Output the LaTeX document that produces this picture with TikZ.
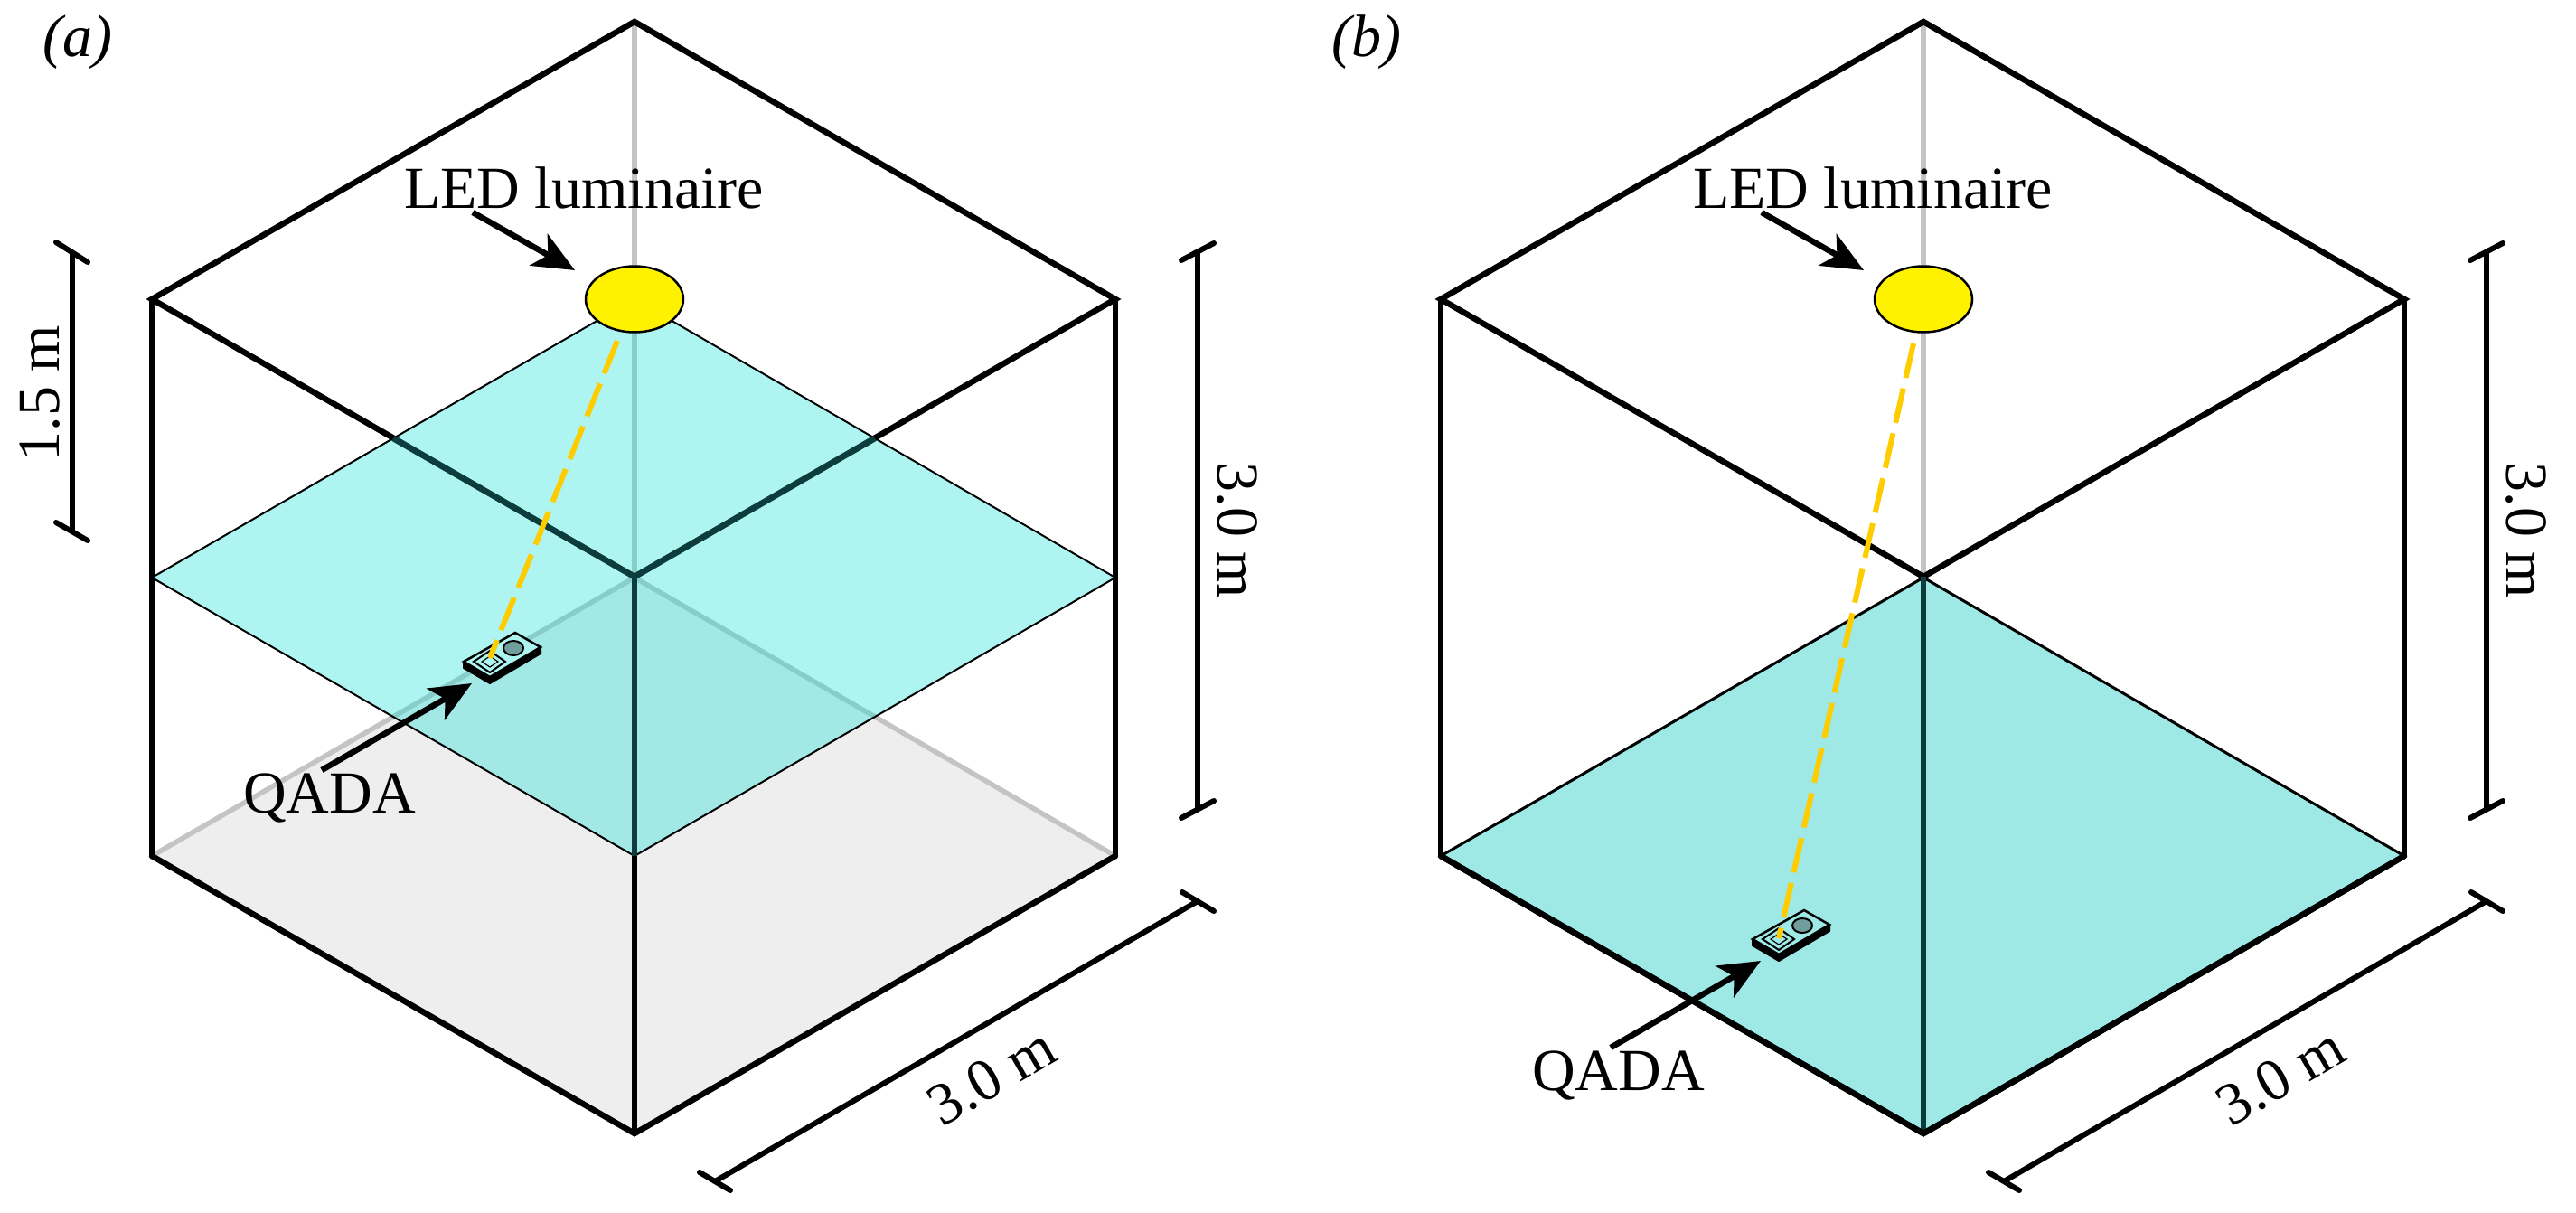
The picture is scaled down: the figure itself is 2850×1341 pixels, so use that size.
\documentclass[tikz,border=0pt]{standalone}
\usepackage{fontspec}
\setmainfont{Liberation Serif}
\usetikzlibrary{arrows.meta,shapes.geometric}
\definecolor{planeink}{RGB}{23,226,217}
\definecolor{planeface}{HTML}{AEF5F2}
\definecolor{floorink}{RGB}{13,200,190}
\definecolor{floorface}{HTML}{9EE9E5}
\definecolor{floorgrey}{HTML}{EEEEEE}
\definecolor{backgrey}{HTML}{C4C4C4}
\definecolor{throughteal}{HTML}{0C3C3B}
\definecolor{ledyellow}{HTML}{FFF200}
\definecolor{beam}{HTML}{FFCC00}
\definecolor{lens}{HTML}{6F9E9C}
\tikzset{
  x=1pt,y=-1pt,
  every node/.style={inner sep=0pt,outer sep=0pt,font=\fontsize{66}{72}\selectfont},
  topedge/.style={draw=black,line width=6.5pt,line join=miter,line cap=round},
  sideedge/.style={draw=black,line width=5.5pt,line cap=round},
  backedge/.style={draw=backgrey,line width=5.5pt},
  thinedge/.style={draw=black,line width=2pt,line join=miter},
  led/.style={ellipse,draw=black,line width=2.5pt,fill=ledyellow,minimum width=108pt,minimum height=73pt},
  callout/.style={draw=black,line width=6.5pt,-{Stealth[length=46pt,width=40pt,inset=12pt]}},
  dimline/.style={draw=black,line width=6pt},
  dimtick/.style={draw=black,line width=6pt,line cap=round},
  beamline/.style={draw=beam,line width=6pt,dash pattern=on 39pt off 12pt},
}
% shared corner points of a cube
\newcommand{\cubepoints}{
  \coordinate (T) at (702,24);
  \coordinate (L) at (168,331);
  \coordinate (R) at (1234,331);
  \coordinate (F) at (702,638);
  \coordinate (bB) at (702,639);
  \coordinate (bL) at (168,947);
  \coordinate (bR) at (1234,947);
  \coordinate (bF) at (702,1254);
}
\newcommand{\cubeframe}{
  \draw[sideedge] (L) -- (bL);
  \draw[sideedge] (R) -- (bR);
  \draw[sideedge] (F) -- (bF);
  \draw[topedge] (L) -- (T) -- (R) -- (F) -- cycle;
  \draw[topedge] (bL) -- (bF) -- (bR);
}
% #1 vertical shift, #2 face colour
\newcommand{\qadamodule}[2]{
  \begin{scope}[yshift=-#1pt]
    \fill[black,draw=black,line width=2pt,line join=round] (513,733) -- (513,739) -- (542,756) -- (598,723) -- (598,716) -- cycle;
    \draw[thinedge,line width=2.5pt,fill=#2] (570,700) -- (598,716) -- (542,749) -- (513,732) -- cycle;
    \draw[thinedge] (542,720) -- (559,732) -- (542,744) -- (524,732) -- cycle;
    \draw[thinedge,line width=1.2pt] (542,726) -- (551,732) -- (542,738) -- (533,732) -- cycle;
    \node[ellipse,draw=black,line width=2pt,fill=lens,minimum width=22pt,minimum height=16pt] (qlens) at (568,717) {};
  \end{scope}
}
\newcommand{\commonlabels}{
  \node[led] (led) at (702,331) {};
  \node[anchor=base] (ledlabel) at (646,230) {LED luminaire};
  \coordinate (ledtail) at (523,235);
  \coordinate (ledtip) at (636,299);
  \draw[callout] (ledtail) -- (ledtip);
  \node[anchor=base,rotate=-90] (hdim) at (1347,587) {3.0 m};
  \coordinate (h1) at (1325,279);
  \coordinate (h2) at (1325,896);
  \coordinate (h1a) at (1307,288);
  \coordinate (h1b) at (1343,269);
  \coordinate (h2a) at (1307,905);
  \coordinate (h2b) at (1343,886);
  \draw[dimline] (h1) -- (h2);
  \draw[dimtick] (h1a) -- (h1b);
  \draw[dimtick] (h2a) -- (h2b);
  \coordinate (w1) at (1325,997);
  \coordinate (w2) at (791,1307);
  \coordinate (w1a) at (1308,987);
  \coordinate (w1b) at (1343,1008);
  \coordinate (w2a) at (774,1297);
  \coordinate (w2b) at (808,1317);
  \draw[dimline] (w1) -- (w2);
  \draw[dimtick] (w1a) -- (w1b);
  \draw[dimtick] (w2a) -- (w2b);
  \node[rotate=30] (wdim) at (1097,1191) {3.0 m};
}
\begin{document}
\begin{tikzpicture}
\useasboundingbox (0,0) rectangle (2850,1341);
% ---------- panel (a)
\begin{scope}[name prefix=a-]
  \cubepoints
  \coordinate (pB) at (702,331);
  \coordinate (pL) at (168,639);
  \coordinate (pR) at (1234,639);
  \coordinate (pF) at (702,947);
  \coordinate (xL) at (435,485);
  \coordinate (xR) at (968,485);
  \fill[floorgrey] (bB) -- (bL) -- (bF) -- (bR) -- cycle;
  \draw[backedge] (bL) -- (bB) -- (bR);
  \draw[backedge] (T) -- (bB);
  \cubeframe
  \fill[planeink,opacity=.35] (pB) -- (pL) -- (pF) -- (pR) -- cycle;
  \draw[thinedge] (pB) -- (pL) -- (pF) -- (pR) -- cycle;
  \draw[draw=throughteal,line width=6.5pt] (xL) -- (F) -- (xR);
  \draw[draw=throughteal,line width=5.5pt] (F) -- (pF);
  \qadamodule{0}{planeface}
  \commonlabels
  \coordinate (beamstart) at (683,377);
  \coordinate (beamend) at (542,728);
  \draw[beamline] (beamstart) -- (beamend);
  \node[anchor=base] (qlabel) at (364.5,899) {QADA};
  \coordinate (qtail) at (356,852);
  \coordinate (qtip) at (522,756);
  \draw[callout] (qtail) -- (qtip);
  \node[anchor=base,font=\fontsize{66}{72}\selectfont\itshape] (tag) at (86,62) {(a)};
  \node[anchor=base,rotate=90] (hhalf) at (65,435) {1.5 m};
  \coordinate (s1) at (80,279);
  \coordinate (s2) at (80,588);
  \coordinate (s1a) at (62,268);
  \coordinate (s1b) at (97,290);
  \coordinate (s2a) at (62,578);
  \coordinate (s2b) at (97,598);
  \draw[dimline] (s1) -- (s2);
  \draw[dimtick] (s1a) -- (s1b);
  \draw[dimtick] (s2a) -- (s2b);
\end{scope}
% ---------- panel (b)
\begin{scope}[xshift=1426pt,name prefix=b-]
  \cubepoints
  \draw[backedge] (T) -- (bB);
  \cubeframe
  \fill[floorink,opacity=.4] (bB) -- (bL) -- (bF) -- (bR) -- cycle;
  \draw[thinedge,line width=3pt] (bL) -- (bB) -- (bR);
  \draw[draw=throughteal,line width=5.5pt] (F) -- (bF);
  \draw[topedge] (bL) -- (bF) -- (bR);
  \draw[sideedge,line cap=butt] (L) -- (bL);
  \draw[sideedge,line cap=butt] (R) -- (bR);
  \qadamodule{307}{floorface}
  \commonlabels
  \coordinate (beamstart) at (691,380);
  \coordinate (beamend) at (542,1038);
  \draw[beamline] (beamstart) -- (beamend);
  \node[anchor=base] (qlabel) at (364.5,1206) {QADA};
  \coordinate (qtail) at (356,1159);
  \coordinate (qtip) at (522,1063);
  \draw[callout] (qtail) -- (qtip);
  \node[anchor=base,font=\fontsize{66}{72}\selectfont\itshape] (tag) at (86,62) {(b)};
\end{scope}
\end{tikzpicture}
\end{document}
